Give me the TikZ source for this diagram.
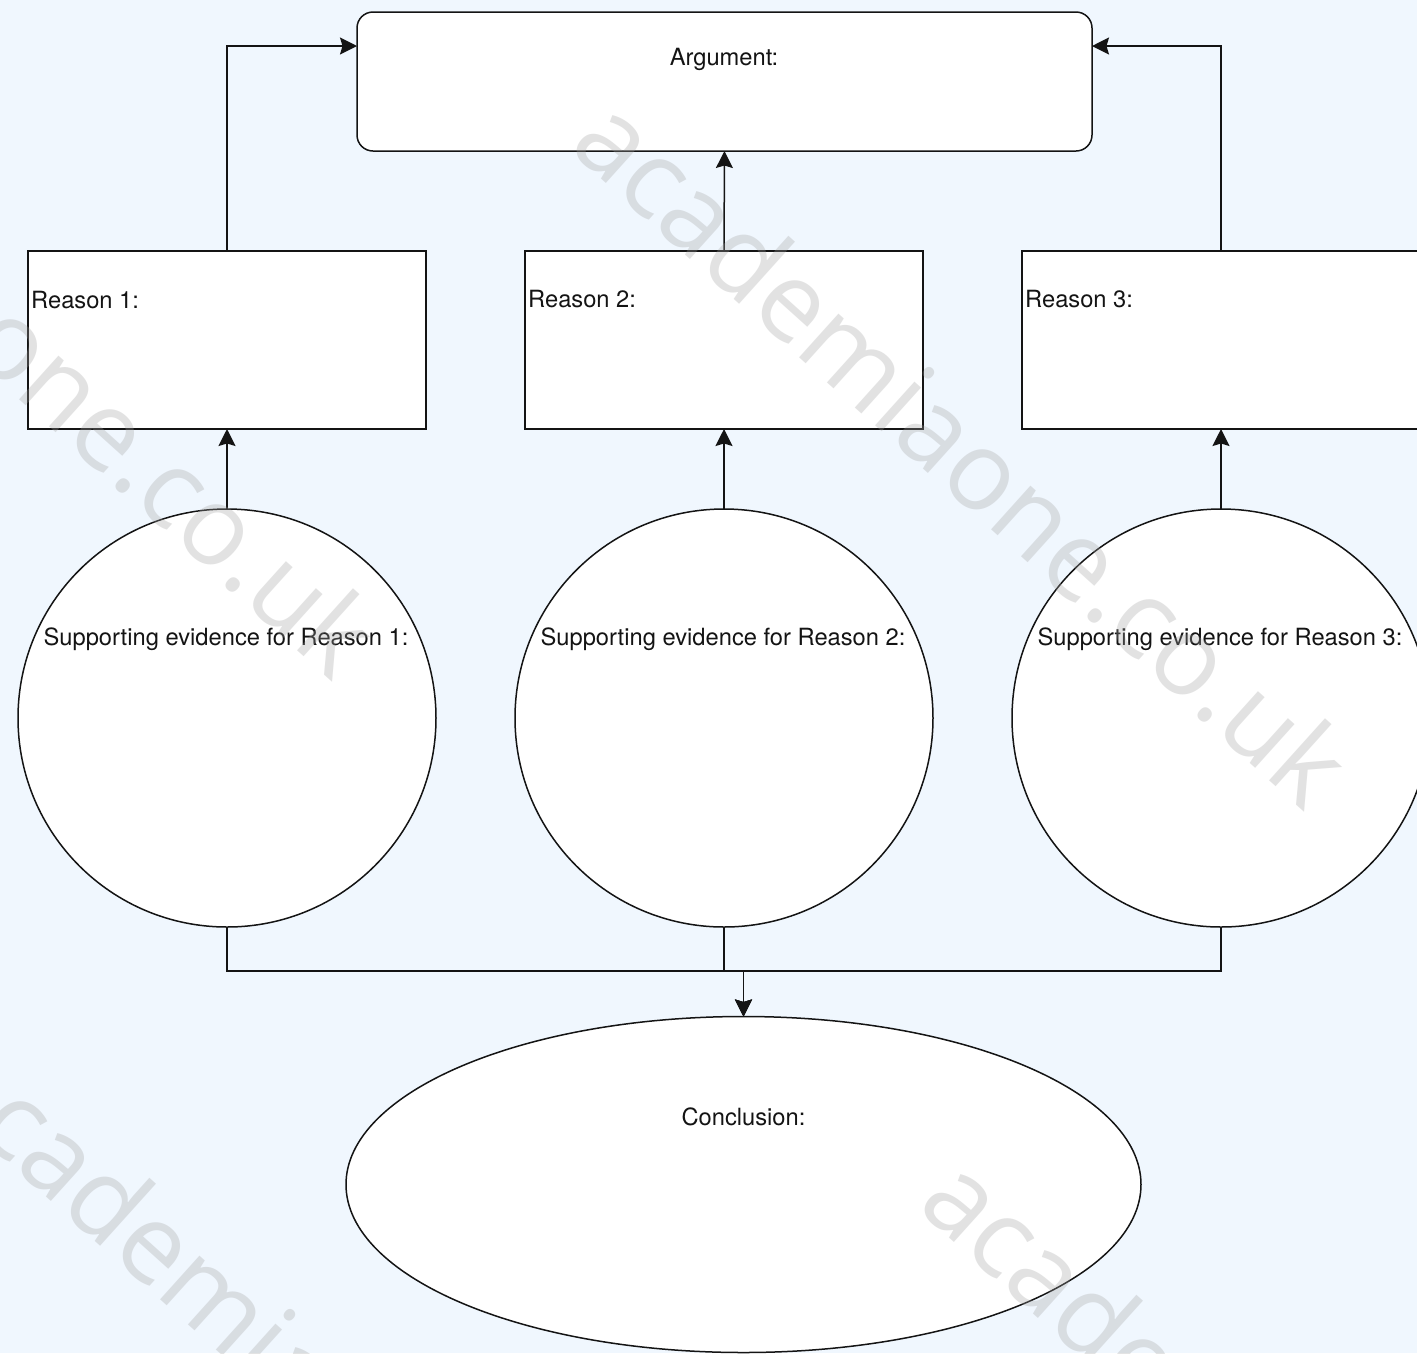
\documentclass[tikz,border=0pt]{standalone}
\usepackage{fontspec}
\setmainfont{TeX Gyre Heros}
\newfontfamily\wmfont{Open Sans}
\usetikzlibrary{arrows.meta,shapes.geometric}
\definecolor{bgc}{RGB}{240,247,254}
\definecolor{inkc}{RGB}{20,20,20}
\begin{document}
\begin{tikzpicture}[x=1pt,y=-1pt,
  shp/.style={draw=inkc, fill=white, line width=1.5pt, inner sep=0pt, outer sep=0pt},
  argbox/.style={shp, rounded corners=16pt, minimum width=735pt, minimum height=139pt},
  reasonbox/.style={shp, minimum width=398pt, minimum height=178pt},
  evcircle/.style={shp, circle, minimum size=418pt},
  concl/.style={shp, ellipse, minimum width=795pt, minimum height=336pt},
  lbl/.style={inner sep=0pt, text=inkc, font=\fontsize{23.7}{28}\selectfont},
  conn/.style={draw=inkc, line width=1.5pt, -{Stealth[length=17pt,width=17pt,inset=2.5pt]}},
  wm/.style={inner sep=0pt, anchor=base west, rotate=-42, text=black!37, text opacity=0.3,
    font=\wmfont\fontsize{110}{130}\selectfont}
]
\useasboundingbox (0,0) rectangle (1417,1353);
\fill[bgc] (0,0) rectangle (1417,1353);
\clip (0,0) rectangle (1417,1353);

% shapes
\node[argbox] (arg) at (724.5,81.5) {};
\node[reasonbox] (r1) at (227,340) {};
\node[reasonbox] (r2) at (724,340) {};
\node[reasonbox] (r3) at (1221,340) {};
\node[evcircle] (s1) at (227,718) {};
\node[evcircle] (s2) at (724,718) {};
\node[evcircle] (s3) at (1221,718) {};
\node[concl] (c) at (743.5,1184.5) {};

% labels
\node[lbl, anchor=base] (argt) at (724,65) {Argument:};
\node[lbl, anchor=base west] (r1t) at (31,308) {Reason 1:};
\node[lbl, anchor=base west] (r2t) at (528,307) {Reason 2:};
\node[lbl, anchor=base west] (r3t) at (1025,307) {Reason 3:};
\node[lbl, anchor=base] (s1t) at (226,645) {Supporting evidence for Reason 1:};
\node[lbl, anchor=base] (s2t) at (723,645) {Supporting evidence for Reason 2:};
\node[lbl, anchor=base] (s3t) at (1220,645) {Supporting evidence for Reason 3:};
\node[lbl, anchor=base] (ct) at (743.5,1125) {Conclusion:};

% connectors
\draw[conn] (r1.north) |- ([yshift=35.5pt]arg.west);
\draw[conn] (r3.north) |- ([yshift=35.5pt]arg.east);
\draw[conn] (r2.north) -- (arg.south);
\draw[conn] (s1.north) -- (r1.south);
\draw[conn] (s2.north) -- (r2.south);
\draw[conn] (s3.north) -- (r3.south);
\draw[conn] (s1.south) -- ++(0,44) -| (c.north);
\draw[conn] (s2.south) -- ++(0,44) -| (c.north);
\draw[conn] (s3.south) -- ++(0,44) -| (c.north);

% watermarks
\node[wm] (wm1) at (567,148) {academiaone.co.uk};
\node[wm] (wm2) at (-405,18) {academiaone.co.uk};
\node[wm] (wm3) at (-72,1090) {academiaone.co.uk};
\node[wm] (wm4) at (915,1207) {academiaone.co.uk};
\end{tikzpicture}
\end{document}
